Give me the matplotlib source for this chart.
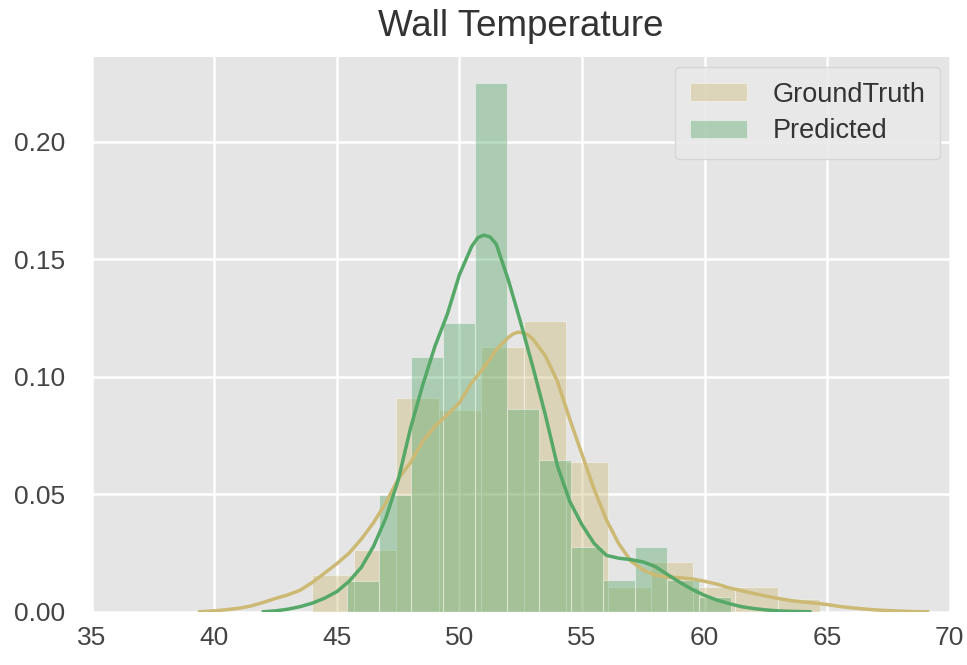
import numpy as np
import matplotlib
matplotlib.use("Agg")
import matplotlib.pyplot as plt

plt.rcParams['font.family'] = ['Liberation Sans', 'DejaVu Sans']

# histogram bins (density)
gt_edges = [43.98, 45.71, 47.43, 49.16, 50.89, 52.62, 54.34, 56.07, 57.80,
            59.53, 61.25, 62.98, 64.71]
gt_heights = [0.0155, 0.0262, 0.0908, 0.0858, 0.1127, 0.1238, 0.0638, 0.0106,
              0.0210, 0.0106, 0.0106, 0.0053]

pr_edges = [45.42, 46.72, 48.03, 49.33, 50.63, 51.94, 53.24, 54.54, 55.85,
            57.15, 58.45, 59.76, 61.06]
pr_heights = [0.0131, 0.0496, 0.1085, 0.1227, 0.2250, 0.0865, 0.0645, 0.0276,
              0.0134, 0.0276, 0.0134, 0.0063]

# kde curves
gt_kde_x = [39.4, 40.0, 40.5, 41.0, 41.5, 42.0, 42.5, 43.0, 43.5, 44.0, 44.5,
            45.0, 45.5, 46.0, 46.5, 47.0, 47.5, 48.0, 48.5, 49.0, 49.5, 50.0,
            50.5, 51.0, 51.5, 52.0, 52.2, 52.4, 52.6, 52.8, 53.0, 53.5, 54.0,
            54.5, 55.0, 55.5, 56.0, 56.5, 57.0, 57.5, 58.0, 58.5, 59.0, 59.5,
            60.0, 60.5, 61.0, 61.5, 62.0, 62.5, 63.0, 63.5, 64.0, 64.5, 65.0,
            65.5, 66.0, 66.5, 67.0, 67.5, 68.0, 68.5, 69.1]
gt_kde_y = [0.0, 0.0004, 0.0009, 0.0015, 0.0025, 0.0040, 0.0057, 0.0072,
            0.0092, 0.0125, 0.0165, 0.0205, 0.0250, 0.0310, 0.0380, 0.0465,
            0.0565, 0.0635, 0.0725, 0.0790, 0.0838, 0.0890, 0.0975, 0.1040,
            0.1115, 0.1168, 0.1183, 0.1190, 0.1187, 0.1178, 0.1160, 0.1090,
            0.0980, 0.0820, 0.0670, 0.0520, 0.0390, 0.0290, 0.0215, 0.0178,
            0.0155, 0.0148, 0.0145, 0.0140, 0.0130, 0.0118, 0.0102, 0.0090,
            0.0078, 0.0067, 0.0057, 0.0048, 0.0042, 0.0037, 0.0031, 0.0023,
            0.0017, 0.0012, 0.0008, 0.0005, 0.0003, 0.0001, 0.0]

pr_kde_x = [42.0, 42.5, 43.0, 43.5, 44.0, 44.5, 45.0, 45.5, 46.0, 46.5, 47.0,
            47.5, 48.0, 48.5, 49.0, 49.5, 50.0, 50.5, 50.75, 51.0, 51.25, 51.5,
            52.0, 52.5, 53.0, 53.5, 54.0, 54.5, 55.0, 55.5, 56.0, 56.5, 57.0,
            57.5, 58.0, 58.5, 59.0, 59.5, 60.0, 60.5, 61.0, 61.5, 62.0, 62.5,
            63.0, 63.5, 64.3]
pr_kde_y = [0.0, 0.0004, 0.0011, 0.0022, 0.0037, 0.0058, 0.0086, 0.0130,
            0.0190, 0.0280, 0.0400, 0.0560, 0.0780, 0.0965, 0.1130, 0.1265,
            0.1435, 0.1555, 0.1592, 0.1603, 0.1595, 0.1565, 0.1410, 0.1230,
            0.1040, 0.0840, 0.0620, 0.0470, 0.0370, 0.0290, 0.0240, 0.0228,
            0.0222, 0.0212, 0.0192, 0.0158, 0.0125, 0.0095, 0.0070, 0.0050,
            0.0035, 0.0022, 0.0014, 0.0008, 0.0004, 0.0002, 0.0]

tan = "#CCB974"
green = "#55A868"

fig = plt.figure(figsize=(9.67, 6.65), dpi=100)
ax = fig.add_axes([0.095, 0.08, 0.887, 0.834])
ax.set_facecolor("#E5E5E5")
ax.grid(True, color="white", linewidth=1.8)
ax.set_axisbelow(True)
for s in ax.spines.values():
    s.set_visible(False)

ax.bar(gt_edges[:-1], gt_heights, width=np.diff(gt_edges), align="edge",
       color=tan, alpha=0.4, edgecolor="white", linewidth=0.8, label="GroundTruth")
ax.plot(gt_kde_x, gt_kde_y, color=tan, linewidth=2.5, solid_joinstyle="round")
ax.bar(pr_edges[:-1], pr_heights, width=np.diff(pr_edges), align="edge",
       color=green, alpha=0.4, edgecolor="white", linewidth=0.8, label="Predicted")
ax.plot(pr_kde_x, pr_kde_y, color=green, linewidth=2.5, solid_joinstyle="round")

ax.set_xlim(35, 70)
ax.set_ylim(0, 0.236)
ax.set_xticks([35, 40, 45, 50, 55, 60, 65, 70])
ax.set_yticks([0.0, 0.05, 0.10, 0.15, 0.20])
ax.set_yticklabels(["0.00", "0.05", "0.10", "0.15", "0.20"])
ax.tick_params(axis="y", length=0, labelsize=19, labelcolor="#444444", pad=19)
ax.tick_params(axis="x", length=0, labelsize=19, labelcolor="#444444", pad=10)

ax.set_title("Wall Temperature", fontsize=26.5, color="#333333", pad=15)
leg = ax.legend(loc="upper right", fontsize=19.5, frameon=True, fancybox=True,
                facecolor="#E9E9E9", edgecolor="#D5D5D5", framealpha=0.9,
                handlelength=2.1, handleheight=0.65, handletextpad=0.95,
                borderpad=0.55, labelspacing=0.4, borderaxespad=0.35)
for t in leg.get_texts():
    t.set_color("#333333")

fig.savefig("out.png", dpi=100)
